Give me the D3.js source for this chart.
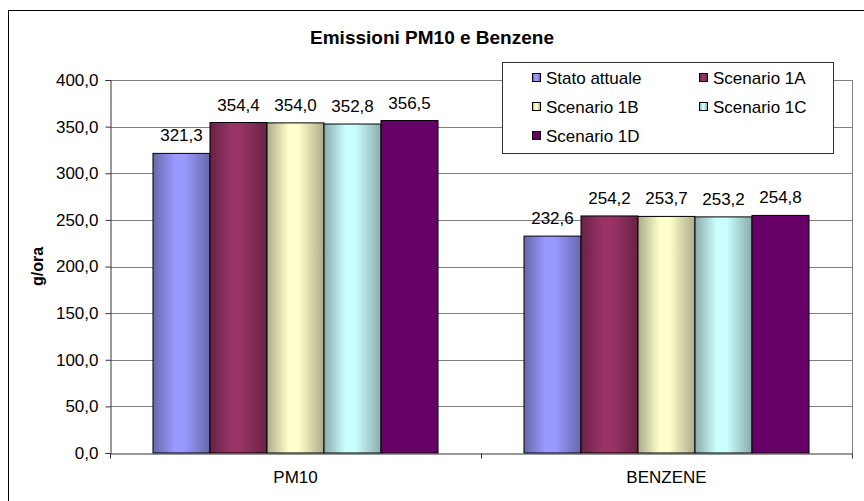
<!DOCTYPE html>
<html>
<head>
<meta charset="utf-8">
<script src="https://cdn.jsdelivr.net/npm/d3@7"></script>
<style>
  html, body { margin: 0; padding: 0; background: #fff; }
  svg { display: block; font-family: Arial, "Liberation Sans", sans-serif; }
</style>
</head>
<body>
<svg id="chart" width="864" height="501"></svg>
<script>
// Categories and series
const categories = ["PM10", "BENZENE"];
const seriesNames = ["Stato attuale", "Scenario 1A", "Scenario 1B", "Scenario 1C", "Scenario 1D"];
const statoAttuale = [321.3, 232.6];
const scenario1A = [354.4, 254.2];
const scenario1B = [354.0, 253.7];
const scenario1C = [352.8, 253.2];
const scenario1D = [356.5, 254.8];
const seriesValues = [statoAttuale, scenario1A, scenario1B, scenario1C, scenario1D];
const yTicks = [0, 50, 100, 150, 200, 250, 300, 350, 400];

const colors = ["#9999FF", "#993366", "#FFFFCC", "#CCFFFF", "#660066"];
const shaded = [true, true, true, true, false];

const svg = d3.select("#chart");
const W = 864, H = 501;
const plot = { left: 110, right: 852, top: 80, bottom: 453 };

const fmt = v => d3.format(".1f")(v).replace(".", ",");

// Cylinder-like horizontal gradients
const defs = svg.append("defs");
colors.forEach((c, i) => {
  const g = defs.append("linearGradient").attr("id", "grad" + i)
    .attr("x1", "0%").attr("x2", "100%").attr("y1", "0%").attr("y2", "0%");
  const dark = d3.color(c).darker(1.1);
  if (shaded[i]) {
    g.append("stop").attr("offset", "0%").attr("stop-color", dark);
    g.append("stop").attr("offset", "38%").attr("stop-color", c);
    g.append("stop").attr("offset", "55%").attr("stop-color", c);
    g.append("stop").attr("offset", "100%").attr("stop-color", dark);
  } else {
    g.append("stop").attr("offset", "0%").attr("stop-color", c);
    g.append("stop").attr("offset", "100%").attr("stop-color", c);
  }
});

// Outer chart frame
svg.append("rect")
  .attr("x", 8.5).attr("y", 10.5)
  .attr("width", W + 20).attr("height", H + 20)
  .attr("fill", "#fff").attr("stroke", "#000").attr("stroke-width", 1);

// Title
svg.append("text")
  .attr("x", 432).attr("y", 44)
  .attr("text-anchor", "middle")
  .attr("font-size", 19).attr("font-weight", "bold")
  .text("Emissioni PM10 e Benzene");

// Scales
const x0 = d3.scaleBand().domain(categories).range([plot.left, plot.right]).padding(0);
const x1 = d3.scaleBand().domain(seriesNames).range([0, x0.bandwidth()])
  .paddingInner(0).paddingOuter(0.754);
const y = d3.scaleLinear().domain([0, 400]).range([plot.bottom, plot.top]);

// Gridlines
svg.append("g").selectAll("line").data(yTicks.filter(t => t > 0)).join("line")
  .attr("x1", plot.left).attr("x2", plot.right)
  .attr("y1", d => Math.round(y(d)) + 0.5).attr("y2", d => Math.round(y(d)) + 0.5)
  .attr("stroke", "#808080").attr("stroke-width", 1);

// Right border of plot area
svg.append("line")
  .attr("x1", plot.right + 0.5).attr("x2", plot.right + 0.5)
  .attr("y1", plot.top).attr("y2", plot.bottom)
  .attr("stroke", "#808080");

// Bars
const groups = svg.append("g").selectAll("g").data(categories).join("g")
  .attr("transform", d => `translate(${x0(d)},0)`);

groups.each(function(cat, ci) {
  const g = d3.select(this);
  seriesNames.forEach((s, si) => {
    const v = seriesValues[si][ci];
    g.append("rect")
      .attr("x", x1(s)).attr("width", x1.bandwidth())
      .attr("y", y(v)).attr("height", y(0) - y(v))
      .attr("fill", `url(#grad${si})`)
      .attr("stroke", "#000").attr("stroke-width", 1);
    g.append("text")
      .attr("x", x1(s) + x1.bandwidth() / 2)
      .attr("y", y(v) - 12)
      .attr("text-anchor", "middle")
      .attr("font-size", 17)
      .attr("fill", "#000")
      .text(fmt(v));
  });
});

// Y axis
const yAxis = d3.axisLeft(y).tickValues(yTicks).tickFormat(fmt).tickSize(5).tickPadding(7);
const yg = svg.append("g").attr("transform", `translate(${plot.left + 0.5},0)`).call(yAxis);
yg.select(".domain").attr("stroke", "#333");
yg.selectAll(".tick line").attr("stroke", "#333");
yg.selectAll(".tick text").attr("font-size", 17).attr("fill", "#000")
  .attr("font-family", "Arial, 'Liberation Sans', sans-serif");

// X axis
const xAxis = d3.axisBottom(x0).tickSize(0).tickPadding(17);
const xg = svg.append("g").attr("transform", `translate(0,${plot.bottom + 0.5})`).call(xAxis);
xg.select(".domain").attr("stroke", "#333");
xg.selectAll(".tick text").attr("font-size", 17).attr("fill", "#000")
  .attr("font-family", "Arial, 'Liberation Sans', sans-serif");
// Category boundary tick marks
xg.append("g").selectAll("line")
  .data([plot.left, plot.left + x0.step(), plot.right]).join("line")
  .attr("x1", d => d + 0.5).attr("x2", d => d + 0.5)
  .attr("y1", 0).attr("y2", 5).attr("stroke", "#333");

// Y axis title
svg.append("text")
  .attr("transform", `translate(43,${(plot.top + plot.bottom) / 2}) rotate(-90)`)
  .attr("text-anchor", "middle")
  .attr("font-size", 16).attr("font-weight", "bold")
  .text("g/ora");

// Legend
const lg = svg.append("g");
lg.append("rect")
  .attr("x", 502.5).attr("y", 62.5).attr("width", 331).attr("height", 91)
  .attr("fill", "#fff").attr("stroke", "#333").attr("stroke-width", 1);
const legendPos = [[532, 78], [699, 78], [532, 107], [699, 107], [532, 136]];
seriesNames.forEach((s, i) => {
  const [lx, ly] = legendPos[i];
  lg.append("rect")
    .attr("x", lx + 0.5).attr("y", ly - 4.5).attr("width", 8).attr("height", 8)
    .attr("fill", `url(#grad${i})`).attr("stroke", "#000");
  lg.append("text")
    .attr("x", lx + 14).attr("y", ly + 6)
    .attr("font-size", 17)
    .text(s);
});
</script>
</body>
</html>
